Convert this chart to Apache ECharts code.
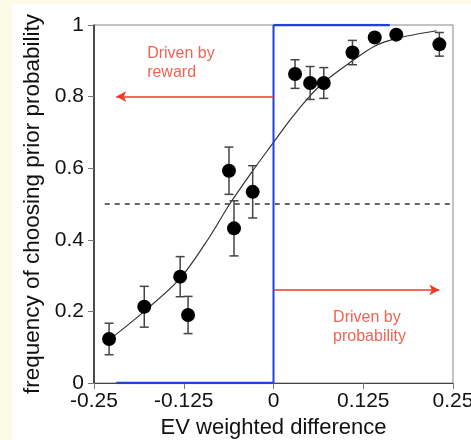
<!DOCTYPE html>
<html>
<head>
<meta charset="utf-8">
<script src="https://cdn.jsdelivr.net/npm/echarts@6/dist/echarts.min.js"></script>
<style>
  html, body { margin: 0; padding: 0; background: #fbfbe8; }
  #main { width: 471px; height: 440px; }
</style>
</head>
<body>
<div id="main"></div>
<script>
// observed points (x = EV weighted difference, y = frequency), with error bar half-lengths
var evDiff = [-0.229, -0.180, -0.130, -0.119, -0.062, -0.055, -0.029, 0.030, 0.051, 0.070, 0.110, 0.141, 0.171, 0.231]
var freq   = [0.123, 0.213, 0.297, 0.190, 0.593, 0.432, 0.534, 0.863, 0.838, 0.838, 0.923, 0.965, 0.973, 0.946]
var errs   = [0.044, 0.057, 0.056, 0.052, 0.066, 0.077, 0.073, 0.040, 0.046, 0.043, 0.034, 0, 0, 0.033]

// fitted curve
var fitX = [-0.229, -0.18, -0.13, -0.09, -0.061, -0.03, 0, 0.025, 0.05, 0.07, 0.11, 0.14, 0.17, 0.227]
var fitY = [0.12, 0.20, 0.292, 0.405, 0.50, 0.59, 0.672, 0.74, 0.80, 0.84, 0.90, 0.94, 0.962, 0.984]

var xTickLabels = ['-0.25', '-0.125', '0', '0.125', '0.25']
var yTickLabels = ['0', '0.2', '0.4', '0.6', '0.8', '1']

// reference lines
var chanceLine = [[-0.235, 0.5], [0.25, 0.5]]
var blueZero = [[0, 0], [0, 1]]
var blueTop = [[0, 1], [0.162, 1]]
var blueBottom = [[-0.219, 0], [0, 0]]
var rewardArrow = [[0, 0.8], [-0.219, 0.8]]
var probArrow = [[0, 0.26], [0.231, 0.26]]
var notes = [
    {value: [-0.176, 0.894], text: 'Driven by\nreward'},
    {value: [0.083, 0.155], text: 'Driven by\nprobability'}
]

var red = '#f03a26'
var blue = '#2040e0'
var font = 'Liberation Sans, Arial, sans-serif'

var myChart = echarts.init(document.getElementById('main'))

var pts = evDiff.map(function (x, i) { return [x, freq[i], errs[i]] })
var fit = fitX.map(function (x, i) { return [x, fitY[i]] })

var option = {
    backgroundColor: '#fbfbe8',
    animation: false,
    graphic: [{
        type: 'rect', left: 12, top: 4, z: -10,
        shape: {width: 471, height: 440},
        style: {fill: '#ffffff'}
    }],
    grid: {
        left: 94, right: 18, top: 25, bottom: 57,
        outerBoundsMode: 'none',
        show: true, borderColor: '#888', borderWidth: 1, backgroundColor: 'transparent'
    },
    xAxis: {
        type: 'value', min: -0.25, max: 0.25, interval: 0.125,
        name: 'EV weighted difference', nameLocation: 'middle', nameGap: 33,
        nameTextStyle: {fontSize: 22, color: '#111', fontFamily: font},
        axisLine: {onZero: false, lineStyle: {color: '#444', width: 1.2}},
        axisTick: {show: true, length: 6, lineStyle: {color: '#777'}},
        axisLabel: {
            fontSize: 21, color: '#111', fontFamily: font, margin: 8,
            alignMinLabel: 'center', alignMaxLabel: 'center',
            formatter: function (v, i) { return xTickLabels[i] }
        },
        splitLine: {show: false}
    },
    yAxis: {
        type: 'value', min: 0, max: 1, interval: 0.2,
        name: 'frequency of choosing prior probability', nameLocation: 'middle', nameGap: 44,
        nameTextStyle: {fontSize: 22.5, color: '#111', fontFamily: font},
        axisLine: {onZero: false, lineStyle: {color: '#222', width: 1.5}},
        axisTick: {show: true, length: 6, lineStyle: {color: '#777'}},
        axisLabel: {
            fontSize: 21, color: '#111', fontFamily: font, margin: 10,
            formatter: function (v, i) { return yTickLabels[i] }
        },
        splitLine: {show: false}
    },
    series: [
        {
            type: 'line', data: chanceLine, symbol: 'none', silent: true,
            lineStyle: {color: '#000', width: 1.2, type: [5, 5]}
        },
        {
            type: 'line', data: fit, smooth: 0.3, symbol: 'none', silent: true,
            lineStyle: {color: '#333', width: 1.2}
        },
        {
            type: 'line', data: blueZero, symbol: 'none', silent: true, z: 4,
            lineStyle: {color: blue, width: 2}
        },
        {
            type: 'line', data: blueTop, symbol: 'none', silent: true, z: 4,
            lineStyle: {color: blue, width: 2.5}
        },
        {
            type: 'line', data: blueBottom, symbol: 'none', silent: true, z: 4,
            lineStyle: {color: blue, width: 2.5}
        },
        {
            type: 'custom', data: pts, silent: true, z: 5,
            renderItem: function (params, api) {
                var e = api.value(2)
                if (!e) return
                var x = api.value(0), y = api.value(1)
                var hi = api.coord([x, y + e])
                var lo = api.coord([x, y - e])
                var w = 4.5
                var st = {stroke: '#444', lineWidth: 1.5}
                return {
                    type: 'group',
                    children: [
                        {type: 'line', shape: {x1: hi[0], y1: hi[1], x2: lo[0], y2: lo[1]}, style: st},
                        {type: 'line', shape: {x1: hi[0] - w, y1: hi[1], x2: hi[0] + w, y2: hi[1]}, style: st},
                        {type: 'line', shape: {x1: lo[0] - w, y1: lo[1], x2: lo[0] + w, y2: lo[1]}, style: st}
                    ]
                }
            }
        },
        {
            type: 'scatter', data: pts, symbolSize: 14, silent: true, z: 6,
            itemStyle: {color: '#000', opacity: 1}
        },
        {
            type: 'line', data: [], silent: true,
            markLine: {
                silent: true, symbol: ['none', 'arrow'], symbolSize: [8, 10],
                label: {show: false},
                lineStyle: {color: red, width: 1.5, type: 'solid'},
                data: [
                    [{coord: rewardArrow[0]}, {coord: rewardArrow[1]}],
                    [{coord: probArrow[0]}, {coord: probArrow[1]}]
                ]
            }
        },
        {
            type: 'scatter', symbolSize: 0, silent: true, z: 7,
            data: notes.map(function (n) { return {value: n.value, text: n.text} }),
            label: {
                show: true, position: [0, 0], align: 'left', verticalAlign: 'middle',
                color: red, fontSize: 16, lineHeight: 19, fontFamily: font,
                formatter: function (p) { return p.data.text }
            }
        }
    ]
}

myChart.setOption(option)
</script>
</body>
</html>
